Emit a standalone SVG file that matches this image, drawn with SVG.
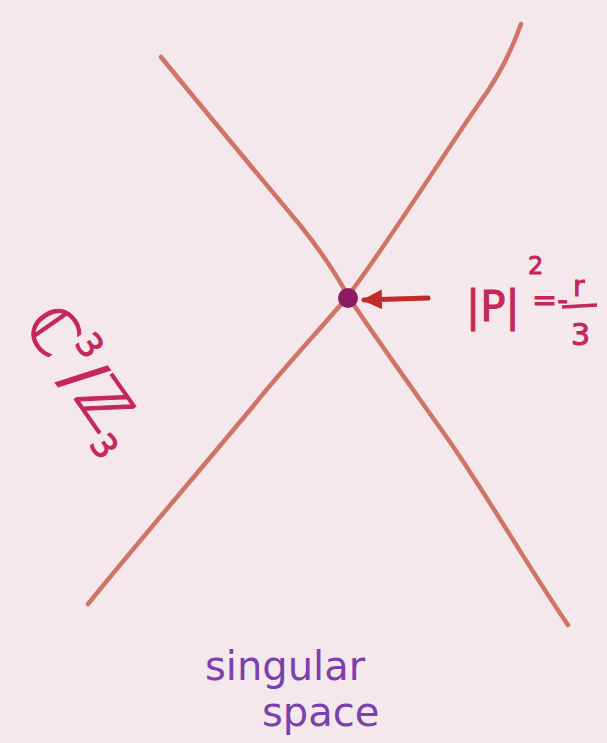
<svg xmlns="http://www.w3.org/2000/svg" width="607" height="743" viewBox="0 0 607 743">
<style>
.ln{fill:none;stroke:#cf7566;stroke-width:4.5;stroke-linecap:round;stroke-linejoin:round}
.hand{font-family:"DejaVu Sans",sans-serif}
.lab{fill:#c4285a;stroke:#c4285a;stroke-width:1}
.purp{fill:#7b3fae}
</style>
<defs>
<marker id="ah" viewBox="0 0 10 10" refX="9" refY="5" markerWidth="4" markerHeight="4" orient="auto">
<path d="M0,0 L10,5 L0,10 z" fill="#c42a2a"/>
</marker>
</defs>
<rect width="607" height="743" fill="#f4e8ec"/>
<g id="connectors">
<path class="ln" d="M161,57 C200,105 250,165 300,225 C320,250 335,272 348,296 C370,330 410,385 450,442 C490,500 530,570 568,625"/>
<path class="ln" d="M521,24 C512,50 500,75 478,105 C440,160 390,240 348,296 C320,330 290,360 250,410 C200,470 140,540 88,604"/>
<line x1="428" y1="298" x2="364" y2="300" stroke="#c42a2a" stroke-width="5" stroke-linecap="round" marker-end="url(#ah)"/>
</g>
<g id="point">
<circle cx="348" cy="298" r="10" fill="#8b1a5e"/>
</g>
<g id="label-p" class="hand lab">
<text x="466" y="321" font-size="42">|P|</text>
<text x="528" y="274" font-size="24">2</text>
<text x="532" y="310" font-size="30">=-</text>
<text x="573" y="296" font-size="28">r</text>
<line x1="562" y1="307" x2="597" y2="305" stroke="#c4285a" stroke-width="3.5"/>
<text x="571" y="345" font-size="30">3</text>
</g>
<g id="label-c3z3" class="hand lab">
<text transform="translate(22,325) rotate(55)" font-size="64">ℂ<tspan font-size="34" dy="-32">3</tspan><tspan dy="32">/</tspan>ℤ<tspan font-size="34" dy="14">3</tspan></text>
</g>
<g id="label-singular" class="hand purp">
<text x="205" y="680" font-size="40">singular</text>
<text x="262" y="726" font-size="40">space</text>
</g>
</svg>
